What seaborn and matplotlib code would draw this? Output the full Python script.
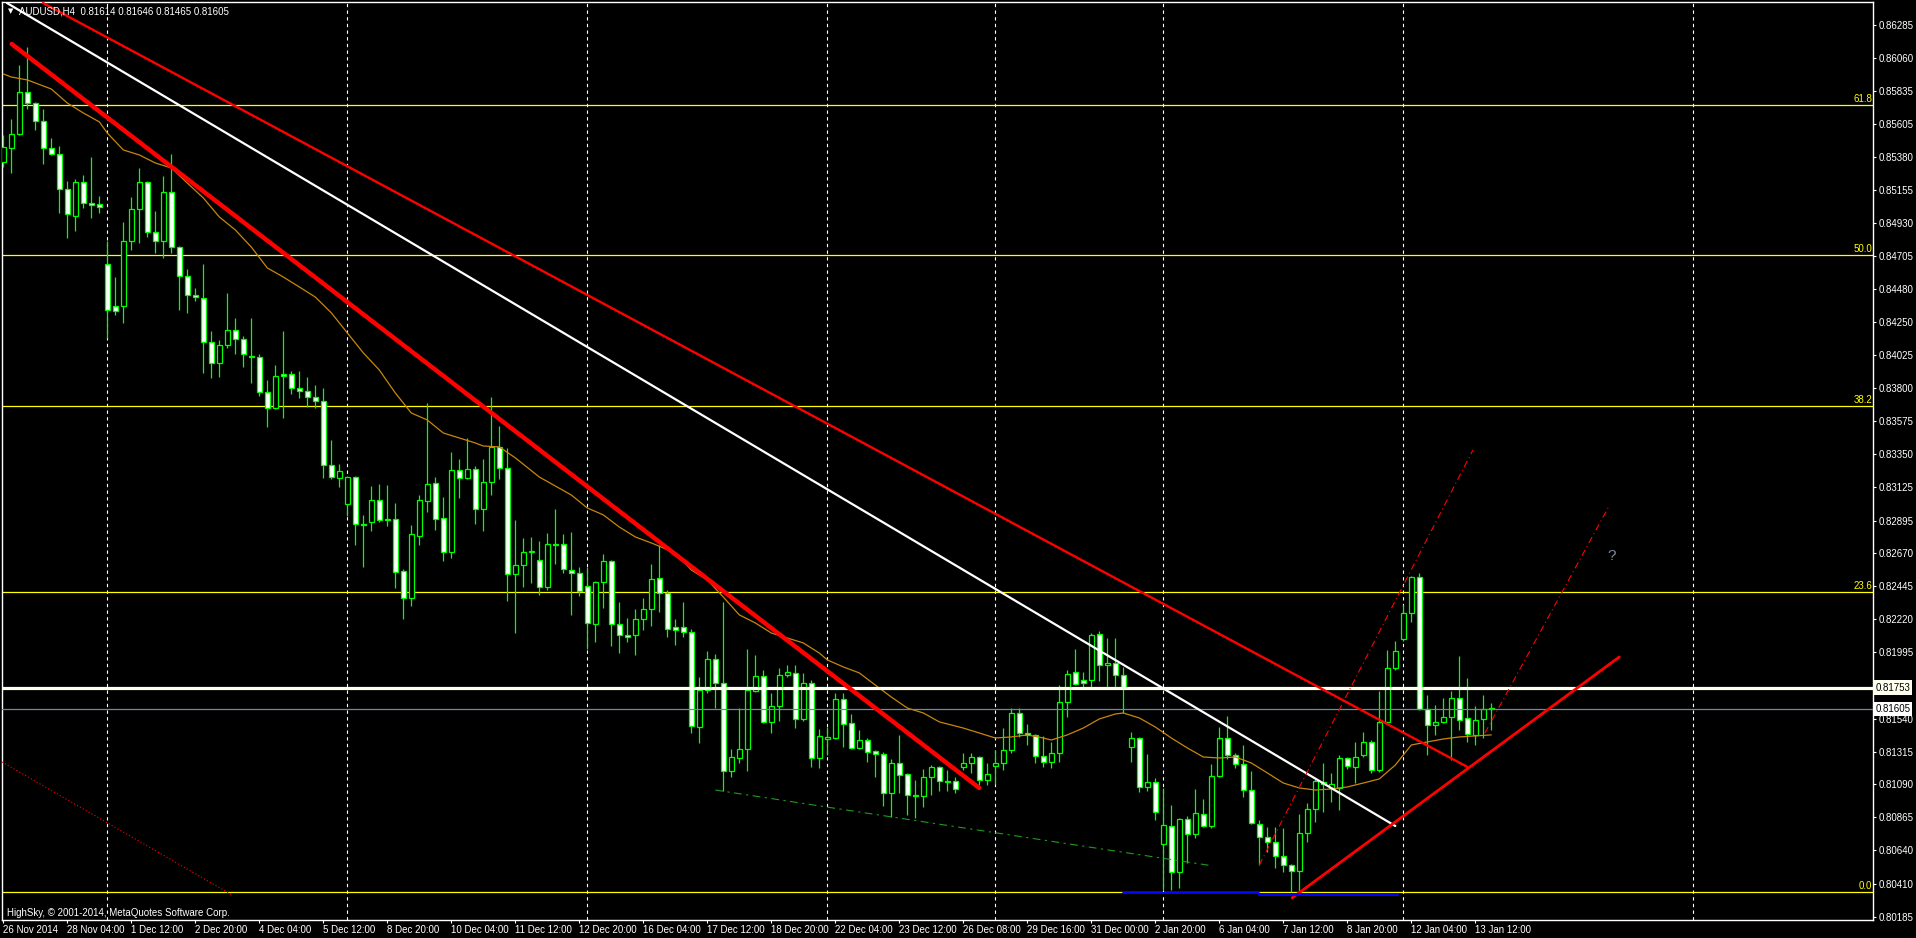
import matplotlib
matplotlib.use("Agg")
import matplotlib.pyplot as plt
import matplotlib.transforms as mtransforms
import seaborn as sns
import pandas as pd
import numpy as np

# AUDUSD H4 mumlari (26 Nov 2014 20:00 -> 13 Jan 2015), bar indeksine gore
opens = [0.85348, 0.85443, 0.85540, 0.85826, 0.85751, 0.85628, 0.85443, 0.85403, 0.85163, 0.84979,
         0.85211, 0.85067, 0.85061, 0.84651, 0.84363, 0.84363, 0.84807, 0.85026, 0.85211, 0.84869,
         0.84807, 0.85143, 0.84766, 0.84568, 0.84438, 0.84418, 0.84116, 0.83973, 0.84096, 0.84199,
         0.84137, 0.84020, 0.84014, 0.83775, 0.83665, 0.83898, 0.83898, 0.83802, 0.83781, 0.83740,
         0.83713, 0.83276, 0.83187, 0.83009, 0.83193, 0.82872, 0.82886, 0.83036, 0.82906, 0.82906,
         0.82550, 0.82366, 0.82790, 0.83029, 0.83152, 0.82913, 0.82680, 0.83241, 0.83187, 0.83248,
         0.82974, 0.83159, 0.83399, 0.83255, 0.82530, 0.82592, 0.82680, 0.82626, 0.82441, 0.82735,
         0.82735, 0.82557, 0.82537, 0.82448, 0.82188, 0.82475, 0.82619, 0.82188, 0.82112, 0.82112,
         0.82222, 0.82290, 0.82503, 0.82400, 0.82167, 0.82167, 0.82133, 0.81483, 0.81736, 0.81949,
         0.81785, 0.81182, 0.81271, 0.81333, 0.81729, 0.81832, 0.81518, 0.81627, 0.81839, 0.81853,
         0.81538, 0.81785, 0.81271, 0.81401, 0.81408, 0.81675, 0.81511, 0.81340, 0.81394, 0.81319,
         0.81299, 0.81032, 0.81237, 0.81162, 0.81018, 0.81011, 0.81141, 0.81210, 0.81114, 0.81114,
         0.81210, 0.81237, 0.81278, 0.81121, 0.81217, 0.81237, 0.81326, 0.81579, 0.81442, 0.81429,
         0.81285, 0.81244, 0.81306, 0.81654, 0.81860, 0.81805, 0.81805, 0.82119, 0.81908, 0.81921,
         0.81839, 0.81346, 0.81408, 0.81073, 0.81107, 0.80683, 0.80806, 0.80491, 0.80854, 0.80751,
         0.80888, 0.80806, 0.81148, 0.81408, 0.81292, 0.81230, 0.81052, 0.80820, 0.80731, 0.80697,
         0.80601, 0.80539, 0.80498, 0.80758, 0.80922, 0.81093, 0.81066, 0.81066, 0.81271, 0.81210,
         0.81292, 0.81381, 0.81189, 0.81518, 0.81887, 0.82085, 0.82263, 0.82510, 0.81607, 0.81497,
         0.81518, 0.81552, 0.81681, 0.81545, 0.81429, 0.81538, 0.81614]
highs = [0.85533, 0.85642, 0.86012, 0.86134, 0.85758, 0.85710, 0.85512, 0.85457, 0.85218, 0.85232,
         0.85259, 0.85382, 0.85115, 0.84807, 0.84561, 0.84937, 0.85108, 0.85307, 0.85218, 0.85013,
         0.85252, 0.85403, 0.84775, 0.84616, 0.84486, 0.84651, 0.84192, 0.84130, 0.84452, 0.84281,
         0.84158, 0.84281, 0.84035, 0.83857, 0.83960, 0.84192, 0.83918, 0.83918, 0.83877, 0.83822,
         0.83802, 0.83446, 0.83282, 0.83200, 0.83200, 0.82934, 0.83132, 0.83146, 0.83139, 0.83015,
         0.82564, 0.82865, 0.83070, 0.83700, 0.83193, 0.83057, 0.83364, 0.83316, 0.83460, 0.83269,
         0.83316, 0.83740, 0.83542, 0.83392, 0.82899, 0.82776, 0.82783, 0.82756, 0.82810, 0.82974,
         0.82803, 0.82817, 0.82578, 0.82578, 0.82482, 0.82667, 0.82626, 0.82338, 0.82229, 0.82290,
         0.82366, 0.82598, 0.82728, 0.82420, 0.82222, 0.82338, 0.82153, 0.81825, 0.82003, 0.81983,
         0.82338, 0.81333, 0.81613, 0.82017, 0.81976, 0.81873, 0.81715, 0.81887, 0.81908, 0.81908,
         0.81853, 0.81805, 0.81470, 0.81483, 0.81715, 0.81715, 0.81572, 0.81463, 0.81408, 0.81326,
         0.81312, 0.81264, 0.81429, 0.81169, 0.81121, 0.81196, 0.81223, 0.81217, 0.81189, 0.81141,
         0.81306, 0.81306, 0.81285, 0.81237, 0.81326, 0.81476, 0.81613, 0.81613, 0.81504, 0.81436,
         0.81422, 0.81381, 0.81770, 0.81873, 0.82017, 0.81860, 0.82126, 0.82140, 0.82092, 0.82092,
         0.81894, 0.81449, 0.81415, 0.81299, 0.81134, 0.81066, 0.80950, 0.80861, 0.80875, 0.81059,
         0.80991, 0.81230, 0.81483, 0.81559, 0.81306, 0.81360, 0.81182, 0.80847, 0.80799, 0.80799,
         0.80792, 0.80546, 0.80888, 0.80963, 0.81128, 0.81237, 0.81169, 0.81292, 0.81278, 0.81381,
         0.81449, 0.81394, 0.81729, 0.82010, 0.82071, 0.82318, 0.82516, 0.82537, 0.81702, 0.81634,
         0.81681, 0.81729, 0.81969, 0.81819, 0.81627, 0.81702, 0.81646]
lows = [0.85314, 0.85272, 0.85533, 0.85710, 0.85567, 0.85335, 0.85396, 0.84999, 0.84828, 0.84876,
        0.85033, 0.84965, 0.84999, 0.84144, 0.84302, 0.84246, 0.84746, 0.84794, 0.84835, 0.84725,
        0.84691, 0.84725, 0.84336, 0.84316, 0.84397, 0.83904, 0.83870, 0.83877, 0.84075, 0.84035,
        0.83946, 0.83836, 0.83747, 0.83535, 0.83658, 0.83597, 0.83761, 0.83734, 0.83672, 0.83665,
        0.83187, 0.83180, 0.83125, 0.82927, 0.82728, 0.82578, 0.82824, 0.82886, 0.82858, 0.82434,
        0.82222, 0.82311, 0.82728, 0.82954, 0.82831, 0.82619, 0.82639, 0.83050, 0.83180, 0.82872,
        0.82824, 0.83070, 0.83180, 0.82345, 0.82126, 0.82441, 0.82468, 0.82386, 0.82420, 0.82598,
        0.82537, 0.82250, 0.82379, 0.82017, 0.82064, 0.82297, 0.82037, 0.81989, 0.82064, 0.81976,
        0.82147, 0.82174, 0.82270, 0.82099, 0.82044, 0.82099, 0.81442, 0.81374, 0.81715, 0.81613,
        0.81045, 0.81141, 0.81237, 0.81182, 0.81722, 0.81511, 0.81442, 0.81524, 0.81825, 0.81476,
        0.81524, 0.81210, 0.81203, 0.81292, 0.81401, 0.81346, 0.81333, 0.81333, 0.81244, 0.81141,
        0.80943, 0.80868, 0.81032, 0.80881, 0.80861, 0.80936, 0.81018, 0.81045, 0.81045, 0.81032,
        0.81189, 0.81169, 0.81086, 0.81086, 0.81093, 0.81189, 0.81306, 0.81415, 0.81360, 0.81237,
        0.81210, 0.81203, 0.81244, 0.81552, 0.81770, 0.81757, 0.81757, 0.81798, 0.81757, 0.81757,
        0.81579, 0.81244, 0.81039, 0.81045, 0.80847, 0.80368, 0.80368, 0.80382, 0.80553, 0.80724,
        0.80799, 0.80792, 0.81141, 0.81264, 0.81203, 0.81004, 0.80820, 0.80539, 0.80628, 0.80519,
        0.80491, 0.80354, 0.80354, 0.80697, 0.80833, 0.80902, 0.80970, 0.80916, 0.81196, 0.81100,
        0.81278, 0.81169, 0.81176, 0.81511, 0.81873, 0.82071, 0.82201, 0.81600, 0.81292, 0.81429,
        0.81511, 0.81258, 0.81463, 0.81381, 0.81360, 0.81408, 0.81465]
closes = [0.85450, 0.85540, 0.85826, 0.85751, 0.85628, 0.85443, 0.85403, 0.85163, 0.84993, 0.85211,
          0.85067, 0.85054, 0.85040, 0.84336, 0.84329, 0.84807, 0.85026, 0.85211, 0.84869, 0.84807,
          0.85143, 0.84766, 0.84568, 0.84438, 0.84424, 0.84116, 0.83973, 0.84096, 0.84199, 0.84137,
          0.84035, 0.84014, 0.83775, 0.83665, 0.83884, 0.83884, 0.83802, 0.83781, 0.83740, 0.83713,
          0.83276, 0.83193, 0.83234, 0.83193, 0.82872, 0.82865, 0.83036, 0.82899, 0.82899, 0.82543,
          0.82366, 0.82803, 0.83036, 0.83146, 0.82906, 0.82680, 0.83241, 0.83187, 0.83248, 0.82974,
          0.83159, 0.83399, 0.83255, 0.82530, 0.82592, 0.82680, 0.82687, 0.82441, 0.82735, 0.82728,
          0.82564, 0.82537, 0.82413, 0.82195, 0.82475, 0.82619, 0.82188, 0.82112, 0.82099, 0.82222,
          0.82290, 0.82496, 0.82400, 0.82153, 0.82147, 0.82133, 0.81490, 0.81736, 0.81949, 0.81785,
          0.81182, 0.81278, 0.81333, 0.81736, 0.81832, 0.81518, 0.81627, 0.81839, 0.81860, 0.81538,
          0.81785, 0.81271, 0.81422, 0.81415, 0.81675, 0.81504, 0.81340, 0.81394, 0.81312, 0.81299,
          0.81032, 0.81237, 0.81155, 0.81018, 0.81011, 0.81141, 0.81210, 0.81114, 0.81107, 0.81059,
          0.81237, 0.81278, 0.81121, 0.81162, 0.81237, 0.81326, 0.81579, 0.81442, 0.81429, 0.81285,
          0.81244, 0.81306, 0.81654, 0.81846, 0.81777, 0.81785, 0.82112, 0.81908, 0.81921, 0.81839,
          0.81757, 0.81408, 0.81073, 0.81107, 0.80902, 0.80813, 0.80491, 0.80854, 0.80751, 0.80895,
          0.80806, 0.81148, 0.81408, 0.81292, 0.81230, 0.81052, 0.80827, 0.80731, 0.80697, 0.80601,
          0.80539, 0.80498, 0.80758, 0.80922, 0.81114, 0.81107, 0.81093, 0.81271, 0.81217, 0.81278,
          0.81381, 0.81189, 0.81518, 0.81887, 0.82003, 0.82263, 0.82510, 0.81607, 0.81497, 0.81518,
          0.81552, 0.81681, 0.81531, 0.81436, 0.81531, 0.81607, 0.81605]

# hareketli ortalama (turuncu ince cizgi), grafikten okunan noktalar
ma_bars = [0, 1, 3, 6, 8, 10, 12, 13, 15, 17, 19, 21, 23, 25, 27, 29, 31, 33, 35, 37, 39, 41, 43, 45,
           47, 49, 51, 53, 55, 57, 59, 60, 62, 64, 67, 71, 73, 75, 77, 79, 81, 84, 86, 88, 90, 92,
           94, 96, 98, 100, 102, 103, 105, 107, 109, 111, 113, 115, 117, 120, 122, 124, 126, 128,
           130, 131, 133, 135, 137, 139, 140, 142, 144, 146, 148, 150, 152, 154, 156, 158, 160,
           162, 164, 166, 168, 170, 172, 174, 176, 178, 180, 182, 186]
ma_values = [0.85950, 0.85929, 0.85909, 0.85847, 0.85751, 0.85683, 0.85622, 0.85546, 0.85430, 0.85396,
             0.85341, 0.85307, 0.85204, 0.85102, 0.84972, 0.84883, 0.84766, 0.84623, 0.84561, 0.84493,
             0.84424, 0.84316, 0.84179, 0.84042, 0.83925, 0.83768, 0.83631, 0.83583, 0.83494, 0.83460,
             0.83426, 0.83405, 0.83399, 0.83324, 0.83193, 0.83070, 0.82981, 0.82934, 0.82851, 0.82783,
             0.82742, 0.82674, 0.82557, 0.82489, 0.82372, 0.82250, 0.82195, 0.82126, 0.82092, 0.82058,
             0.81989, 0.81942, 0.81894, 0.81853, 0.81770, 0.81688, 0.81613, 0.81579, 0.81518, 0.81476,
             0.81442, 0.81408, 0.81415, 0.81429, 0.81408, 0.81394, 0.81429, 0.81476, 0.81538, 0.81572,
             0.81579, 0.81545, 0.81483, 0.81408, 0.81340, 0.81278, 0.81271, 0.81278, 0.81237, 0.81169,
             0.81100, 0.81066, 0.81052, 0.81059, 0.81073, 0.81100, 0.81128, 0.81223, 0.81360, 0.81381,
             0.81401, 0.81415, 0.81429]

fib_levels = [0.85738, 0.84712, 0.83680, 0.82408, 0.80356]
fib_names = ["61.8", "50.0", "38.2", "23.6", "0.0"]
resistance_price = 0.81753
bid_price = 0.81605

price_ticks = [0.86285, 0.86060, 0.85835, 0.85605, 0.85380, 0.85155, 0.84930, 0.84705, 0.84480,
               0.84250, 0.84025, 0.83800, 0.83575, 0.83350, 0.83125, 0.82895, 0.82670, 0.82445,
               0.82220, 0.81995, 0.81540, 0.81315, 0.81090, 0.80865, 0.80640, 0.80410, 0.80185]

date_bars = list(range(0, 185, 8))
date_labels = ["26 Nov 2014", "28 Nov 04:00", "1 Dec 12:00", "2 Dec 20:00", "4 Dec 04:00",
               "5 Dec 12:00", "8 Dec 20:00", "10 Dec 04:00", "11 Dec 12:00", "12 Dec 20:00",
               "16 Dec 04:00", "17 Dec 12:00", "18 Dec 20:00", "22 Dec 04:00", "23 Dec 12:00",
               "26 Dec 08:00", "29 Dec 16:00", "31 Dec 00:00", "2 Jan 20:00", "6 Jan 04:00",
               "7 Jan 12:00", "8 Jan 20:00", "12 Jan 04:00", "13 Jan 12:00"]

# haftalik ayiraclar (kesikli dikey cizgiler)
week_bars = [13, 43, 73, 103, 124, 145, 175, 211.2]

# cizilmis trend cizgileri: (bar, fiyat) uc noktalari
thick_red_bars, thick_red_prices = [1.05, 122], [0.86155, 0.81066]
upper_red_bars, upper_red_prices = [4.96, 183], [0.86435, 0.81210]
white_bars, white_prices = [0.46, 174], [0.86435, 0.80806]
support_bars, support_prices = [161.1, 202], [0.80314, 0.81962]
chan_a_bars, chan_a_prices = [157, 183.7], [0.80539, 0.83378]
chan_b_bars, chan_b_prices = [185.2, 200.8], [0.81442, 0.83002]
green_bars, green_prices = [89, 151.2], [0.81052, 0.80533]
dotted_bars, dotted_prices = [-0.16, 28.6], [0.81244, 0.80334]
blue_a_bars, blue_a_prices = [140, 157], [0.80348, 0.80348]
blue_b_bars, blue_b_prices = [157, 174.2], [0.80341, 0.80341]

W, H = 1916, 938
sns.set_theme(style="dark", rc={"axes.facecolor": "black", "figure.facecolor": "black"})
plt.rcParams["font.family"] = ["Liberation Sans", "DejaVu Sans"]

fig = plt.figure(figsize=(W / 100, H / 100), dpi=100, facecolor="black")
ax = fig.add_axes([2 / W, 18 / H, 1871 / W, 918 / H])
ax.set_facecolor("black")

df = pd.DataFrame({"o": opens, "h": highs, "l": lows, "c": closes})
df["bar"] = np.arange(len(df))
df["bull"] = df["c"] >= df["o"]
df["bottom"] = df[["o", "c"]].min(axis=1)
df["height"] = (df["c"] - df["o"]).abs().clip(lower=0.00002)

green = "#00ff00"
for x in week_bars:
    ax.axvline(x, color="white", lw=0.8, ls=(0, (3, 3)), zorder=1)
for lvl in fib_levels:
    ax.axhline(lvl, color="#ffff00", lw=0.9, zorder=2)

ax.vlines(df["bar"], df["l"], df["h"], color=green, lw=0.9, zorder=4)
ax.bar(df["bar"], df["height"], bottom=df["bottom"], width=0.58,
       color=np.where(df["bull"], "black", "white"), edgecolor=green, linewidth=0.9, zorder=5)

sns.lineplot(x=ma_bars, y=ma_values, ax=ax, color="#c8860b", lw=0.9, zorder=5.5)

ax.axhline(bid_price, color="#778899", lw=0.9, zorder=6)
ax.axhline(resistance_price, color="#fffff0", lw=2.3, zorder=6)

ax.plot(thick_red_bars, thick_red_prices, color="red", lw=3.2, solid_capstyle="round", zorder=7)
ax.plot(upper_red_bars, upper_red_prices, color="red", lw=1.7, zorder=7)
ax.plot(white_bars, white_prices, color="white", lw=1.6, zorder=7)
ax.plot(support_bars, support_prices, color="red", lw=2.0, zorder=7)
ax.plot(chan_a_bars, chan_a_prices, color="red", lw=0.8, ls=(0, (6, 3, 1, 3)), zorder=7)
ax.plot(chan_b_bars, chan_b_prices, color="red", lw=0.8, ls=(0, (6, 3, 1, 3)), zorder=7)
ax.plot(green_bars, green_prices, color="#1f9a1f", lw=0.8, ls=(0, (7, 4, 2, 4)), zorder=7)
ax.plot(dotted_bars, dotted_prices, color="red", lw=0.8, ls=(0, (1, 2)), zorder=7)
ax.plot(blue_a_bars, blue_a_prices, color="#0000ff", lw=1.4, zorder=7)
ax.plot(blue_b_bars, blue_b_prices, color="#0000ff", lw=2.2, zorder=7)

ax.set_xlim((2 - 3.3) / 8, (1873 - 3.3) / 8)
ax.set_ylim(0.80163, 0.86442)

for s in ax.spines.values():
    s.set_color("white")
    s.set_linewidth(1)
    s.set_visible(True)

ax.yaxis.tick_right()
ax.set_yticks(price_ticks)
ax.set_yticklabels([f"{p:.5f}" for p in price_ticks])
ax.set_xticks(date_bars)
ax.set_xticklabels(date_labels, ha="left")
ax.tick_params(axis="both", colors="white", labelcolor="white", labelsize=7,
               length=2.5, width=0.8, direction="out")
ax.tick_params(axis="y", pad=1.5, right=True, left=False)
ax.tick_params(axis="x", pad=1, bottom=True)
ax.grid(False)
ax.set_xlabel("")
ax.set_ylabel("")

# fibo etiketleri
edge = mtransforms.blended_transform_factory(ax.transAxes, ax.transData)
for lvl, name in zip(fib_levels, fib_names):
    ax.text(0.9995, lvl + 0.00003, name, transform=edge, ha="right", va="bottom",
            color="#ffff00", fontsize=7, zorder=8)

# sag eksendeki fiyat kutulari
ax.text(1.0012, resistance_price, f"{resistance_price:.5f}", transform=edge, ha="left", va="center",
        color="black", fontsize=7, clip_on=False, zorder=9,
        bbox=dict(boxstyle="square,pad=0.22", facecolor="#fffff0", edgecolor="none"))
ax.text(1.0012, bid_price, f"{bid_price:.5f}", transform=edge, ha="left", va="center",
        color="black", fontsize=7, clip_on=False, zorder=9,
        bbox=dict(boxstyle="square,pad=0.22", facecolor="white", edgecolor="none"))

fig.text(1612 / W, 1 - 556 / H, "?", color="#7f8a99", fontsize=11, ha="center", va="center")
fig.text(8 / W, 1 - 11 / H, "\u25bc", color="white", fontsize=5, ha="left", va="center",
         family=["DejaVu Sans"])
fig.text(19 / W, 1 - 11 / H, "AUDUSD,H4  0.81614 0.81646 0.81465 0.81605", color="white",
         fontsize=7, ha="left", va="center")
fig.text(7 / W, 1 - 913 / H, "HighSky, \u00a9 2001-2014, MetaQuotes Software Corp.", color="white",
         fontsize=7, ha="left", va="center")

fig.savefig("out.png", dpi=100, facecolor="black")
